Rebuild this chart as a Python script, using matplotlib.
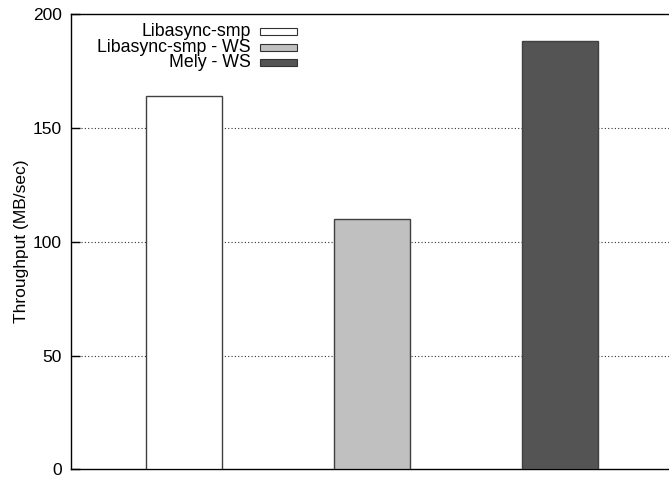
import matplotlib.pyplot as plt
from matplotlib.patches import Rectangle

# data
labels = ["Libasync-smp", "Libasync-smp - WS", "Mely - WS"]
throughput = [164, 110, 188]
colors = ["#ffffff", "#c0c0c0", "#545454"]
yticks = [0, 50, 100, 150, 200]

plt.rcParams['font.family'] = ['Liberation Sans', 'DejaVu Sans']
plt.rcParams['font.size'] = 12.8

fig = plt.figure(figsize=(6.69, 4.78), dpi=100)
ax = fig.add_axes([0.1061, 0.0178, 0.8939, 0.9529])

x = range(len(throughput))
ax.bar(x, throughput, width=0.404, color=colors, edgecolor="#404040",
       linewidth=1.0, zorder=3)

ax.set_xlim(-0.601, 2.58)
ax.set_ylim(0, 200)
ax.set_yticks(yticks)
ax.set_xticks([])
ax.tick_params(axis='y', direction='in', length=6.5, width=1.0, pad=6.5,
               labelsize=12.5)
ax.set_ylabel("Throughput (MB/sec)", fontsize=12.5, labelpad=3)

for y in yticks[1:-1]:
    ax.axhline(y, color="#333333", linestyle=(0, (1, 2)), linewidth=0.8, zorder=1)

ax.spines['right'].set_visible(False)
for s in ['left', 'top', 'bottom']:
    ax.spines[s].set_linewidth(1.0)

# legend: right-aligned text, swatch to the right
rows_y = [0.961, 0.927, 0.893]
for lab, c, ry in zip(labels, colors, rows_y):
    ax.text(0.3006, ry, lab, transform=ax.transAxes, ha='right', va='center')
    ax.add_patch(Rectangle((0.3161, ry - 0.0077), 0.0619, 0.0154,
                           transform=ax.transAxes, facecolor=c,
                           edgecolor="#333333", linewidth=0.8, zorder=4))

fig.savefig("out.png", dpi=100)
